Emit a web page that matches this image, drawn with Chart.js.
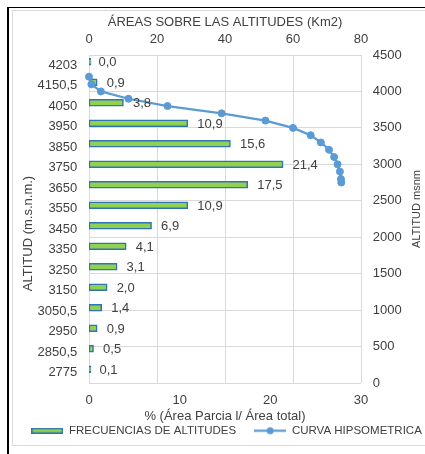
<!DOCTYPE html>
<html><head><meta charset="utf-8">
<script src="https://cdn.jsdelivr.net/npm/chart.js@4/dist/chart.umd.min.js"></script>
<style>
html,body{margin:0;padding:0;background:#fff;overflow:hidden;width:425px;height:454px;}
#frameTop{position:absolute;left:7px;top:7px;width:440px;height:0;border-top:1.5px solid #000;}
#frameLeft{position:absolute;left:7px;top:7px;width:0;height:460px;border-left:2px solid #000;}
#box{position:absolute;left:12px;top:10px;width:440px;height:436px;border:1px solid #d9d9d9;box-sizing:border-box;}
#wrap{position:absolute;left:13px;top:11px;width:427px;height:434px;}
</style>
</head><body>
<div id="frameTop"></div><div id="frameLeft"></div><div id="box"></div>
<div id="wrap"><canvas id="c" width="427" height="434"></canvas></div>
<script>
const altitudeLabels = ['4203','4150,5','4050','3950','3850','3750','3650','3550','3450','3350','3250','3150','3050,5','2950','2850,5','2775'];
const barPercent = [0.0, 0.9, 3.8, 10.9, 15.6, 21.4, 17.5, 10.9, 6.9, 4.1, 3.1, 2.0, 1.4, 0.9, 0.5, 0.1];
const curveArea = [0, 0.7, 3.5, 11.6, 23.1, 39.0, 51.9, 60.0, 65.2, 68.2, 70.6, 72.1, 73.1, 73.8, 74.1, 74.2];
const curveAltitude = [4203, 4098, 4000, 3900, 3800, 3700, 3600, 3500, 3400, 3300, 3200, 3100, 3000, 2900, 2800, 2750];
const FONT = '"Liberation Sans", Arial, sans-serif';
const TXT = '#404040';
const BAR_FILL = '#92D050', BAR_BORDER = '#2E75B6', LINE_COLOR = '#5B9BD5', GRID = '#d9d9d9';

Chart.defaults.font.family = FONT;
Chart.defaults.font.size = 13;
Chart.defaults.color = TXT;

function makeBarIcon(){
  const c = document.createElement('canvas'); c.width = 32; c.height = 6;
  const g = c.getContext('2d');
  g.fillStyle = BAR_BORDER; g.fillRect(0,0,32,6);
  g.fillStyle = BAR_FILL; g.fillRect(1.5,1.5,29,3);
  return c;
}
function makeLineIcon(){
  const c = document.createElement('canvas'); c.width = 32; c.height = 9;
  const g = c.getContext('2d');
  g.strokeStyle = LINE_COLOR; g.lineWidth = 2.25;
  g.beginPath(); g.moveTo(0,4.5); g.lineTo(32,4.5); g.stroke();
  g.fillStyle = LINE_COLOR; g.beginPath(); g.arc(16,4.5,3.5,0,Math.PI*2); g.fill();
  return c;
}
const barIcon = makeBarIcon(), lineIcon = makeLineIcon();

const extras = {
  id: 'extras',
  afterDatasetsDraw(chart){
    const ctx = chart.ctx, meta = chart.getDatasetMeta(0), xs = chart.scales.x;
    ctx.save();
    ctx.font = '13px ' + FONT; ctx.fillStyle = TXT;
    ctx.textBaseline = 'middle'; ctx.textAlign = 'left';
    meta.data.forEach((bar, i) => {
      const v = barPercent[i];
      ctx.fillText(v.toFixed(1).replace('.', ','), xs.getPixelForValue(v) + 9.5, bar.y + 1);
    });
    ctx.restore();
  },
  afterDraw(chart){
    const ctx = chart.ctx;
    ctx.save();
    ctx.fillStyle = TXT; ctx.textAlign = 'center'; ctx.textBaseline = 'middle';
    ctx.font = '13px ' + FONT;
    ctx.translate(15.5, 222.5); ctx.rotate(-Math.PI/2);
    ctx.fillText('ALTITUD (m.s.n.m.)', 0, 0);
    ctx.restore();
    ctx.save();
    ctx.fillStyle = TXT; ctx.textAlign = 'center'; ctx.textBaseline = 'middle';
    ctx.font = '11px ' + FONT;
    ctx.translate(404, 198); ctx.rotate(-Math.PI/2);
    ctx.fillText('ALTITUD msnm', 0, 0);
    ctx.restore();
  }
};

new Chart(document.getElementById('c'), {
  data: {
    labels: altitudeLabels,
    datasets: [
      { type:'bar', label:'FRECUENCIAS DE ALTITUDES', data: barPercent, xAxisID:'x', yAxisID:'y', indexAxis:'y',
        backgroundColor: BAR_FILL, borderColor: BAR_BORDER, borderWidth: 1.5, borderSkipped: false,
        barThickness: 7, minBarLength: 2, order: 1 },
      { type:'line', label:'CURVA HIPSOMETRICA', data: curveArea.map((a,i)=>({x:a, y:curveAltitude[i]})),
        xAxisID:'x2', yAxisID:'y2', indexAxis:'x', borderColor: LINE_COLOR, backgroundColor: LINE_COLOR,
        borderWidth: 2.25, pointRadius: 3.5, pointBorderWidth: 1, pointBackgroundColor: LINE_COLOR,
        pointBorderColor: LINE_COLOR, tension: 0, clip: false, order: 0 }
    ]
  },
  options: {
    indexAxis: 'y',
    responsive: false,
    animation: false,
    layout: { padding: { left:0, right:0, top:0, bottom:-1.5 } },
    scales: {
      x: { type:'linear', position:'bottom', min:0, max:30,
           ticks:{ stepSize:10, padding:9.2 }, grid:{ display:false, drawTicks:false }, border:{ display:false },
           title:{ display:true, text:'% (Área Parcia l/ Área total)', padding:{ top:0, bottom:-16.8 } },
           afterFit(s){ s.height = 24; } },
      x2: { type:'linear', position:'top', min:0, max:80,
            ticks:{ stepSize:20, padding:8 }, grid:{ color:GRID, drawTicks:false }, border:{ display:false },
            title:{ display:true, text:'ÁREAS SOBRE LAS ALTITUDES (Km2)', padding:{ top:3.7, bottom:0 } },
            afterFit(s){ s.height = 44; } },
      y: { type:'category', position:'left', offset:true,
           grid:{ display:false, drawTicks:false }, border:{ display:false },
           ticks:{ padding:11.7, autoSkip:false },
           afterFit(s){ s.width = 76; } },
      y2: { type:'linear', position:'right', min:0, max:4500,
            ticks:{ stepSize:500, padding:11.7, callback: v => String(v) },
            grid:{ color:GRID, drawTicks:false }, border:{ display:false },
            afterFit(s){ s.width = 79; } }
    },
    plugins: {
      tooltip: { enabled:false },
      legend: {
        position:'bottom',
        labels: {
          usePointStyle:true, pointStyleWidth:32, padding:18, color:TXT, font:{ size:11.5 },
          generateLabels: () => [
            { text:'FRECUENCIAS DE ALTITUDES', pointStyle:barIcon, fillStyle:BAR_FILL, strokeStyle:BAR_BORDER, lineWidth:0, hidden:false, datasetIndex:0, fontColor:TXT },
            { text:'CURVA HIPSOMETRICA', pointStyle:lineIcon, fillStyle:LINE_COLOR, strokeStyle:LINE_COLOR, lineWidth:0, hidden:false, datasetIndex:1, fontColor:TXT }
          ]
        }
      }
    }
  },
  plugins: [extras]
});
</script>
</body></html>
